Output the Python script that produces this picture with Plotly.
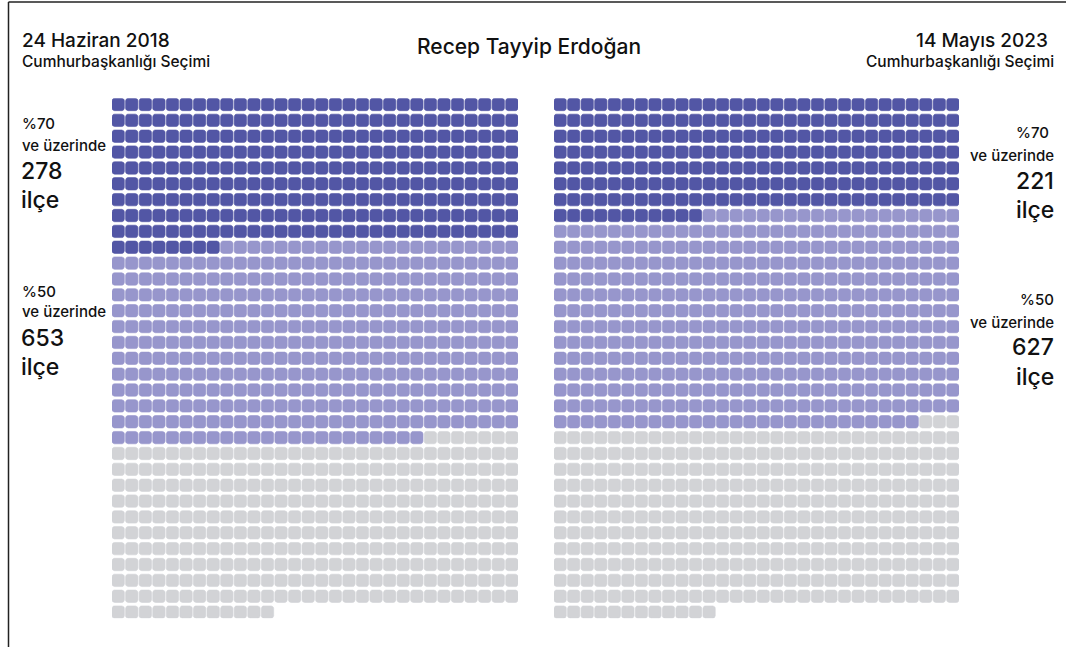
import numpy as np
import plotly.graph_objects as go

# District counts (ilçe) for Erdoğan vote share, two presidential elections
total_2018 = 972
over70_2018 = 278
over50_2018 = 653

total_2023 = 972
over70_2023 = 221
over50_2023 = 627

N_COLS = 30
N_ROWS = 33

DARK = "#5256a5"
MID = "#9796cc"
GRAY = "#d2d3d6"

W, H = 1066, 647

# cell geometry in data units (one column / one row = 1 unit)
HW, HH = 0.4545, 0.39
RX, RY = 0.19, 0.16


def rounded_cells(indices):
    """Build one polygon path (None-separated) of rounded squares for the given cell indices."""
    xs, ys = [], []
    t = np.linspace(0, np.pi / 2, 5)
    for i in indices:
        cx, cy = i % N_COLS, i // N_COLS
        corners = [
            (cx + HW - RX, cy - HH + RY, -np.pi / 2),
            (cx + HW - RX, cy + HH - RY, 0.0),
            (cx - HW + RX, cy + HH - RY, np.pi / 2),
            (cx - HW + RX, cy - HH + RY, np.pi),
        ]
        for (ox, oy, a0) in corners:
            a = a0 + t
            xs.extend(ox + RX * np.cos(a))
            ys.extend(oy + RY * np.sin(a))
        xs.append(xs[-20])
        ys.append(ys[-20])
        xs.append(None)
        ys.append(None)
    return xs, ys


def waffle_traces(total, over70, over50, xaxis):
    groups = [
        (range(over50, total), GRAY),
        (range(over70, over50), MID),
        (range(0, over70), DARK),
    ]
    traces = []
    for idx, col in groups:
        xs, ys = rounded_cells(idx)
        traces.append(go.Scatter(
            x=xs, y=ys, mode="lines", fill="toself", fillcolor=col,
            line=dict(width=0.6, color=col), hoverinfo="skip",
            xaxis=xaxis, yaxis="y", showlegend=False,
        ))
    return traces


fig = go.Figure()
for tr in waffle_traces(total_2018, over70_2018, over50_2018, "x"):
    fig.add_trace(tr)
for tr in waffle_traces(total_2023, over70_2023, over50_2023, "x2"):
    fig.add_trace(tr)

ax_common = dict(visible=False, fixedrange=True, range=[-HW, N_COLS - 1 + HW])
fig.update_layout(
    width=W, height=H,
    margin=dict(l=0, r=0, t=0, b=0),
    paper_bgcolor="white", plot_bgcolor="white",
    xaxis=dict(domain=[112 / W, 518 / W], **ax_common),
    xaxis2=dict(domain=[554 / W, 959 / W], **ax_common),
    yaxis=dict(domain=[1 - 618.3 / H, 1 - 98.3 / H], visible=False, fixedrange=True,
               range=[N_ROWS - 1 + HH, -HH]),
)

FONT = "Inter"
INK = "#111111"


def txt(s, px, py, size, anchor="left", weight=500):
    fig.add_annotation(
        text=s,
        x=px / W, y=1 - py / H, xref="paper", yref="paper",
        xanchor=anchor, yanchor="middle", showarrow=False,
        font=dict(family=FONT, size=size, color=INK, weight=weight),
    )


# headers
txt("24 Haziran 2018", 20, 40, 19)
txt("Cumhurbaşkanlığı Seçimi", 20, 61, 15.5)
txt("Recep Tayyip Erdoğan", 529, 46, 21, anchor="center")
txt("14 Mayıs 2023", 1050, 40, 19, anchor="right")
txt("Cumhurbaşkanlığı Seçimi", 1056, 61, 15.5, anchor="right")

# left side labels (2018)
txt("%70", 20, 124, 15)
txt("ve üzerinde", 20, 145, 15)
txt(str(over70_2018), 19, 171, 23, weight=450)
txt("ilçe", 19, 200, 23, weight=450)
txt("%50", 20, 291, 15)
txt("ve üzerinde", 20, 311, 15)
txt(str(over50_2018), 19, 338, 23, weight=450)
txt("ilçe", 19, 367, 23, weight=450)

# right side labels (2023)
txt("%70", 1051, 133, 15, anchor="right")
txt("ve üzerinde", 1056, 155, 15, anchor="right")
txt(str(over70_2023), 1056, 181, 23, anchor="right", weight=450)
txt("ilçe", 1056, 210, 23, anchor="right", weight=450)
txt("%50", 1056, 300, 15, anchor="right")
txt("ve üzerinde", 1056, 322, 15, anchor="right")
txt(str(over50_2023), 1056, 347, 23, anchor="right", weight=450)
txt("ilçe", 1056, 377, 23, anchor="right", weight=450)

# frame
fig.add_shape(type="line", xref="paper", yref="paper",
              x0=8.5 / W, x1=8.5 / W, y0=0, y1=1 - 2 / H,
              line=dict(color="#222222", width=1.5))
fig.add_shape(type="line", xref="paper", yref="paper",
              x0=8.5 / W, x1=1, y0=1 - 2 / H, y1=1 - 2 / H,
              line=dict(color="#222222", width=1.5))

fig.write_html("out.html")
